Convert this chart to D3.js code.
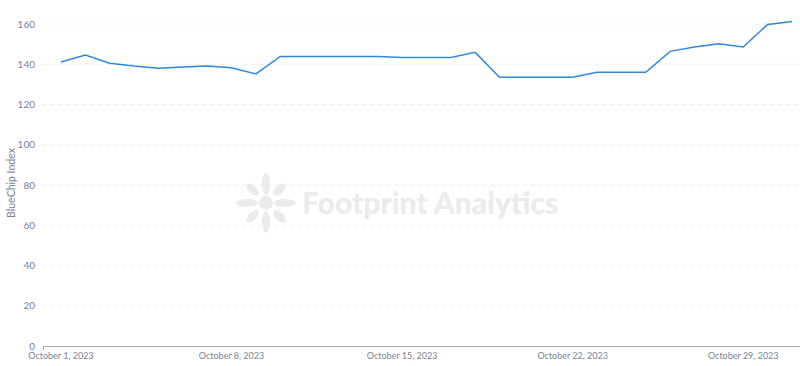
<!DOCTYPE html>
<html>
<head>
<meta charset="utf-8">
<script src="https://cdn.jsdelivr.net/npm/d3@7"></script>
<style>
  body { margin: 0; background: #fff; }
  svg { display: block; font-family: Lato, "Noto Sans", sans-serif; }
</style>
</head>
<body>
<svg id="chart" width="800" height="366"></svg>
<script>
// daily BlueChip index, October 2023
const dates = d3.range(1, 32).map(d => new Date(2023, 9, d));
const indexValues = [141.1, 144.6, 140.5, 139.1, 138.0, 138.6, 139.1, 138.3, 135.2, 143.9,
    143.9, 143.9, 143.9, 143.9, 143.4, 143.4, 143.4, 145.9, 133.5, 133.5,
    133.5, 133.5, 136.0, 136.0, 136.0, 146.4, 148.6, 150.2, 148.6, 159.8, 161.2];
const yTicks = [0, 20, 40, 60, 80, 100, 120, 140, 160];
const xTickDates = [1, 8, 15, 22, 29].map(d => new Date(2023, 9, d));

const svg = d3.select("#chart");
const margin = {left: 43, right: 0, top: 24, bottom: 20};

const x = d3.scaleTime()
    .domain([dates[0], dates[dates.length - 1]])
    .range([61, 792]);
const y = d3.scaleLinear()
    .domain([0, 160])
    .range([346, 24]);

// watermark
const wm = svg.append("g").attr("fill", "#ebebee");
const cx = 266, cy = 203;
wm.append("circle").attr("cx", cx).attr("cy", cy).attr("r", 7);
[0, 45, 90, 135, 180, 225, 270, 315].forEach((a, i) => {
    const big = (i % 2 === 0) ? 1 : 0.6;
    const r = 19;
    const px = cx + r * Math.cos(a * Math.PI / 180),
        py = cy + r * Math.sin(a * Math.PI / 180);
    wm.append("ellipse")
        .attr("cx", px)
        .attr("cy", py)
        .attr("rx", 8 * big + 3)
        .attr("ry", 4)
        .attr("transform", `rotate(${a},${px},${py})`);
});
wm.append("text")
    .attr("x", 302)
    .attr("y", 214)
    .attr("font-size", "30px")
    .attr("font-weight", "900")
    .attr("font-family", "Lato, sans-serif")
    .text("Footprint Analytics");

// grid
svg.append("g")
    .selectAll("line")
    .data(yTicks.filter(d => d > 0))
    .join("line")
    .attr("x1", margin.left)
    .attr("x2", 800)
    .attr("y1", d => y(d))
    .attr("y2", d => y(d))
    .attr("stroke", "#ececec")
    .attr("stroke-dasharray", "4,4");

// y axis labels
svg.append("g")
    .selectAll("text")
    .data(yTicks)
    .join("text")
    .attr("x", 35)
    .attr("y", d => y(d) + 3.5)
    .attr("text-anchor", "end")
    .attr("font-size", "10px")
    .attr("fill", "#7b7f94")
    .text(d => d);

svg.append("text")
    .attr("transform", `translate(15,${183}) rotate(-90)`)
    .attr("text-anchor", "middle")
    .attr("font-size", "10.5px")
    .attr("fill", "#7b7f94")
    .text("BlueChip Index");

// x axis
svg.append("line")
    .attr("x1", margin.left)
    .attr("x2", 800)
    .attr("y1", 346.5)
    .attr("y2", 346.5)
    .attr("stroke", "#a9acb8");
svg.append("line")
    .attr("x1", margin.left + 0.5)
    .attr("x2", margin.left + 0.5)
    .attr("y1", 346)
    .attr("y2", 350)
    .attr("stroke", "#a9acb8");

svg.append("g")
    .selectAll("text")
    .data(xTickDates)
    .join("text")
    .attr("x", d => x(d))
    .attr("y", 359)
    .attr("text-anchor", "middle")
    .attr("font-size", "9px")
    .attr("fill", "#7b7f94")
    .text(d => d3.timeFormat("%B %-d, %Y")(d));

// line
const line = d3.line()
    .x((d, i) => x(dates[i]))
    .y(d => y(d));

svg.append("path")
    .datum(indexValues)
    .attr("d", line)
    .attr("fill", "none")
    .attr("stroke", "#2f88dd")
    .attr("stroke-width", 1.5);
</script>
</body>
</html>
